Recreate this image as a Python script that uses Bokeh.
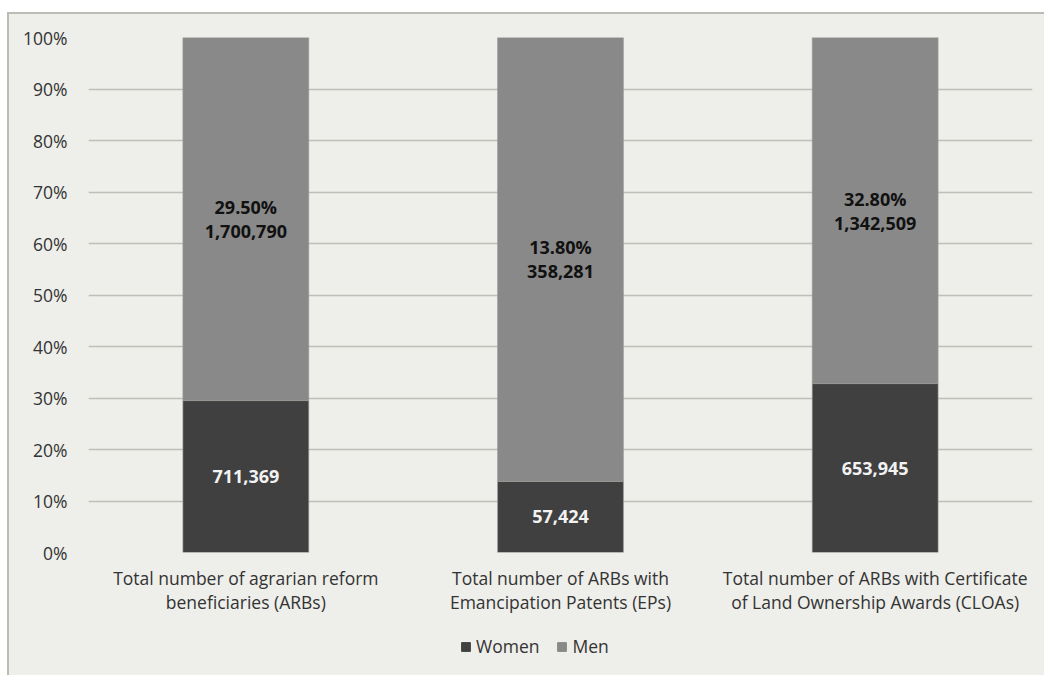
from bokeh.plotting import figure
from bokeh.models import ColumnDataSource, FixedTicker, Legend, LegendItem, Spacer
from bokeh.layouts import column, row
from bokeh.core.properties import value
from bokeh.embed import file_html
from bokeh.resources import INLINE

# Agrarian reform beneficiaries by sex
categories = [
    "Total number of agrarian reform\nbeneficiaries (ARBs)",
    "Total number of ARBs with\nEmancipation Patents (EPs)",
    "Total number of ARBs with Certificate\nof Land Ownership Awards (CLOAs)",
]
series = ["Women", "Men"]
women_pct = [29.5, 13.8, 32.8]
women_count = ["711,369", "57,424", "653,945"]
men_count = ["1,700,790", "358,281", "1,342,509"]
y_ticks = [0, 10, 20, 30, 40, 50, 60, 70, 80, 90, 100]

men_pct = [100 - w for w in women_pct]

BG = "#eeeeea"
DARK = "#404040"
MID = "#898989"
GRID = "#bfbfb9"
EDGE = "#bcbcb5"
TXT = "#333333"
FONT = "Open Sans"

src = ColumnDataSource(dict(
    cat=categories,
    women=women_pct,
    men=men_pct,
    women_y=[w / 2 for w in women_pct],
    men_y=[w + m / 2 for w, m in zip(women_pct, men_pct)],
    women_lbl=women_count,
    men_lbl=[f"{w:.2f}%\n{c}" for w, c in zip(women_pct, men_count)],
))

# main chart
p = figure(
    x_range=categories, y_range=(0, 100),
    width=1037, height=608,
    output_backend="svg", toolbar_location=None,
    min_border_left=79, min_border_right=14,
    min_border_top=23, min_border_bottom=70,
    background_fill_color=BG, border_fill_color=BG,
    outline_line_color=None,
)
p.styles = {"border-top": f"2px solid {EDGE}", "border-left": f"2px solid {EDGE}"}

bars = p.vbar_stack(["women", "men"], x="cat", width=0.4, source=src,
                    color=[DARK, MID], line_color="#9a9a96", line_width=0.6)

p.text(x="cat", y="women_y", text="women_lbl", source=src,
       text_align="center", text_baseline="middle",
       text_font=value(FONT), text_font_style="bold", text_font_size="18px",
       text_color="#f2f2f2")
p.text(x="cat", y="men_y", text="men_lbl", source=src,
       text_align="center", text_baseline="middle",
       text_font=value(FONT), text_font_style="bold", text_font_size="18px",
       text_color="#111111", text_line_height=1.0)

p.xgrid.grid_line_color = None
p.ygrid.grid_line_color = GRID
p.ygrid.grid_line_width = 1.6
p.ygrid.ticker = FixedTicker(ticks=y_ticks)

p.yaxis.ticker = FixedTicker(ticks=y_ticks)
p.yaxis.major_label_overrides = {t: f"{t}%" for t in y_ticks}
for ax in (p.xaxis[0], p.yaxis[0]):
    ax.axis_line_color = None
    ax.major_tick_line_color = None
    ax.minor_tick_line_color = None
    ax.major_label_text_font = FONT
    ax.major_label_text_font_size = "17.5px"
    ax.major_label_text_color = TXT
p.yaxis.major_label_standoff = 15
p.xaxis.major_label_standoff = 7
p.xaxis.major_label_text_line_height = 1.0

# legend strip underneath the chart; swatch renderers sit outside its ranges
pl = figure(
    width=1037, height=55, x_range=(0, 1), y_range=(0, 1),
    output_backend="svg", toolbar_location=None,
    x_axis_type=None, y_axis_type=None, min_border=0,
    background_fill_color=BG, border_fill_color=BG,
    outline_line_color=None,
)
pl.styles = {"border-left": f"2px solid {EDGE}"}
pl.grid.visible = False
swatches = [pl.vbar(x=[-1], top=[-1], bottom=[-2], width=0.1, color=c)
            for c in (DARK, MID)]

legend = Legend(
    items=[LegendItem(label=s, renderers=[r]) for s, r in zip(series, swatches)],
    orientation="horizontal", location=(372, 17),
    glyph_width=11, glyph_height=11, label_standoff=5, spacing=17,
    padding=0, margin=0, border_line_color=None, background_fill_alpha=0,
    label_text_font=FONT, label_text_font_size="17.5px", label_text_color=TXT,
)
pl.add_layout(legend, "center")

body = column(p, pl, spacing=0)
body.styles = {"background-color": BG}
layout = column(Spacer(height=12), row(Spacer(width=7), body))
layout.styles = {"background-color": "white"}

open("out.html", "w").write(file_html(layout, INLINE))
